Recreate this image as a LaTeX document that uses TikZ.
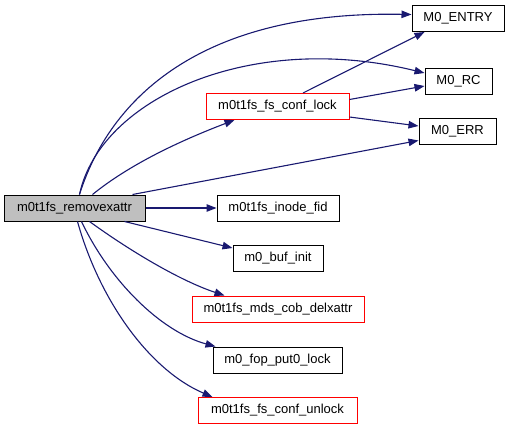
\documentclass[tikz,border=0pt]{standalone}
\usepackage{fontspec}
\setmainfont{Liberation Sans}
\usepackage{tikz}
\usetikzlibrary{arrows.meta}
\definecolor{midnight}{RGB}{25,25,112}
\definecolor{calleered}{RGB}{255,0,0}
\definecolor{callergray}{RGB}{191,191,191}
\tikzset{>={Triangle[length=10pt,width=7.5pt]}}
\tikzset{
  fn/.style={draw=black,line width=1pt,minimum height=26pt,inner sep=0pt,
    font=\fontsize{13}{15}\selectfont},
  fnred/.style={fn,draw=calleered},
  fnmain/.style={fn,fill=callergray},
  call/.style={->,midnight,line width=1.1pt}
}

\begin{document}
\begin{tikzpicture}[x=1pt,y=-1pt]
    \useasboundingbox (0,0) rectangle (509,429);
    \node[fnmain,minimum width=141pt](main) at (74.5,208) {m0t1fs\_removexattr};
    \begin{scope}
        \node[fn,minimum width=92pt](entry) at (458,18.5) {M0\_ENTRY};
        \node[fn,minimum width=67pt](rc) at (458.5,81) {M0\_RC};
        \node[fn,minimum width=77pt](err) at (457.5,131) {M0\_ERR};
        \node[fnred,minimum width=143pt](lock) at (277.5,106.5) {m0t1fs\_fs\_conf\_lock};
    \end{scope}
    \node[fn,minimum width=122pt](fid) at (278,208) {m0t1fs\_inode\_fid};
    \node[fn,minimum width=90pt](buf) at (278,258.5) {m0\_buf\_init};
    \node[fnred,minimum width=172pt](delx) at (278,309) {m0t1fs\_mds\_cob\_delxattr};
    \node[fn,minimum width=129pt](put) at (277.5,360) {m0\_fop\_put0\_lock};
    \node[fnred,minimum width=159pt](unlock) at (277.5,410.5) {m0t1fs\_fs\_conf\_unlock};

    \draw[call] ([xshift=76pt]main.north west) .. controls +(30,-95) and +(-212,-4) .. ([yshift=4pt]entry.west);
    \draw[call] ([xshift=76pt]main.north west) .. controls +(20,-95) and +(-175,-43) .. ([yshift=8pt]rc.west);
    \draw[call] ([xshift=89pt]main.north west) .. controls +(37,-30) and +(-55,21) .. ([xshift=29pt]lock.south west);
    \draw[call] ([xshift=129pt]main.north west) -- ([yshift=4pt]err.south west);
    \draw[call] ([xshift=25.5pt]lock.north) -- ([xshift=13pt]entry.south west);
    \draw[call] ([yshift=7pt]lock.east) -- ([yshift=-5pt]rc.west);
    \draw[call] ([yshift=-10.5pt]lock.east) -- ([yshift=5pt]err.west);
    \draw[call] (main.east) -- (fid.west);
    \draw[call] ([xshift=121pt]main.south west) -- ([yshift=-3pt]buf.north west);
    \draw[call] ([xshift=86pt]main.south west) .. controls +(40,29) and +(-45,-15) .. ([xshift=33pt]delx.north west);
    \draw[call] ([xshift=78pt]main.south west) .. controls +(28,59) and +(-55,-15) .. ([xshift=3pt]put.north west);
    \draw[call] ([xshift=74pt]main.south west) .. controls +(22,79) and +(-63,-27) .. ([xshift=15pt]unlock.north west);
\end{tikzpicture}
\end{document}
